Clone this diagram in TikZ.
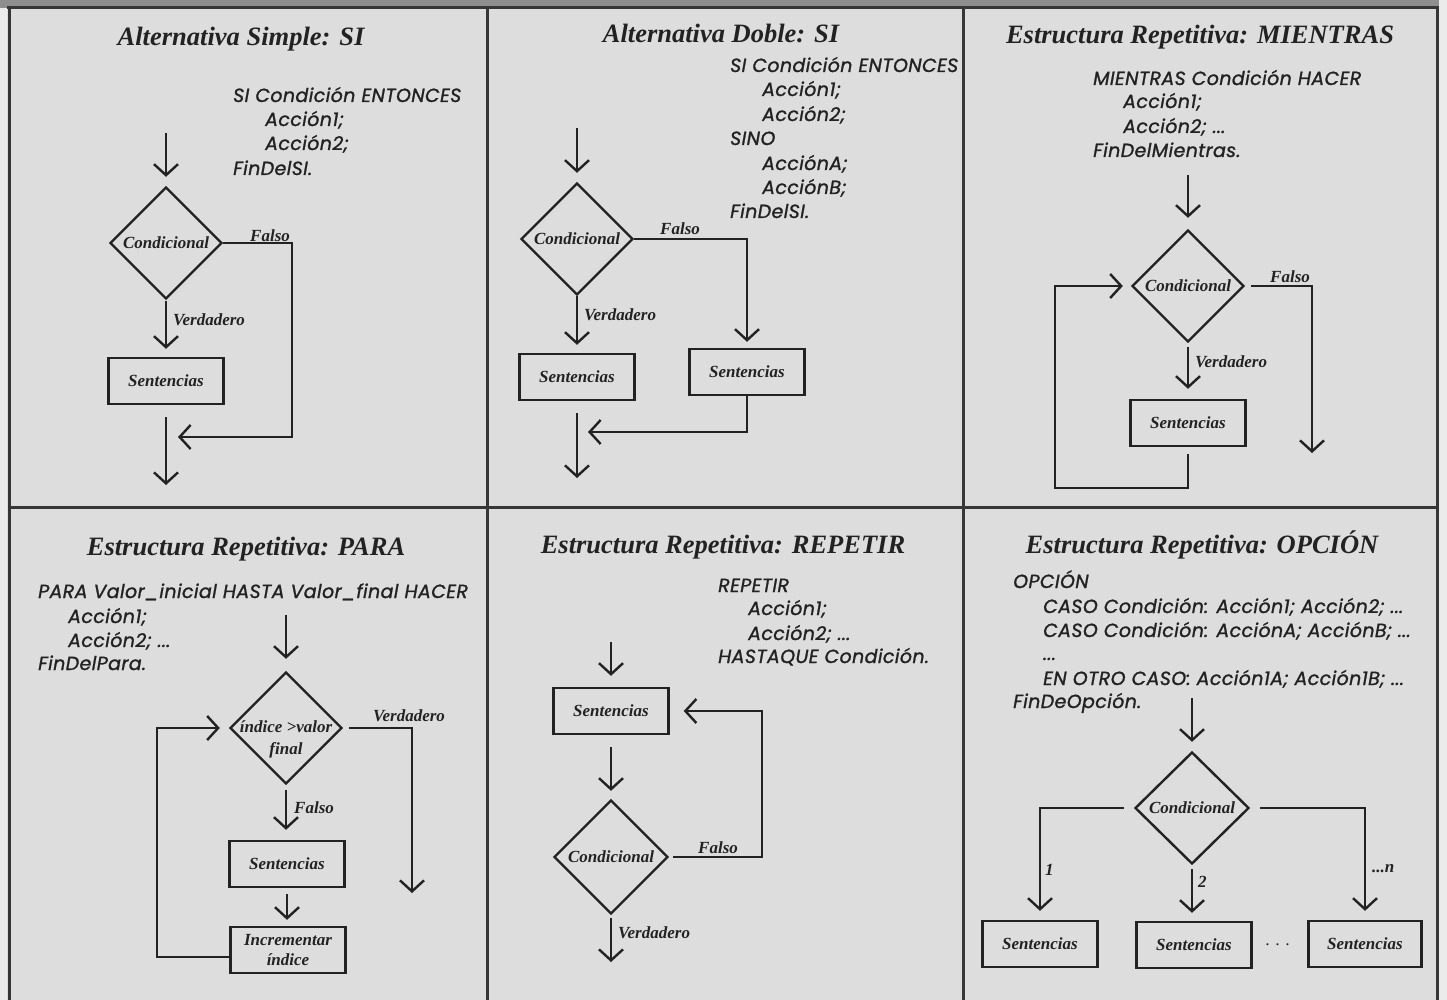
\documentclass[tikz,border=0pt]{standalone}
\usepackage{fontspec}
\setmainfont{Liberation Serif}
\newfontfamily\codefont{Poppins}[FakeBold=1.2,LetterSpace=2]
\usetikzlibrary{arrows.meta,shapes.geometric}
\definecolor{bg}{HTML}{DDDDDD}
\definecolor{ink}{HTML}{222222}
\definecolor{frame}{HTML}{363636}
\definecolor{topbar}{HTML}{8E8E8E}
\definecolor{margin}{HTML}{EBEBEB}
\begin{document}
\begin{tikzpicture}[x=1pt,y=-1pt,
  every node/.style={text=ink},
  ln/.style={line width=2.4pt, draw=ink},
  arr/.style={ln, -{Straight Barb[length=11pt,width=24pt,line width=2.4pt]}},
  dia/.style={ln, shape=diamond, minimum width=112pt, minimum height=112pt, inner sep=0pt,
    font=\bfseries\itshape\fontsize{17}{19}\selectfont},
  box/.style={ln, rectangle, minimum width=115pt, minimum height=46pt, inner sep=0pt,
    font=\bfseries\itshape\fontsize{17}{20}\selectfont},
  lbl/.style={font=\bfseries\itshape\fontsize{17}{19}\selectfont, inner sep=0pt},
  elbl/.style={lbl, anchor=base west},
  ttl/.style={font=\bfseries\itshape\fontsize{26.5}{30}\selectfont, inner sep=0pt, anchor=base},
  code/.style={font=\codefont\itshape\fontsize{19}{22}\selectfont, inner sep=0pt, anchor=base west},
]
\useasboundingbox (0,0) rectangle (1447,1000);
\fill[bg] (0,0) rectangle (1447,1000);
\fill[margin] (1439,0) rectangle (1447,1000);
\fill[margin] (0,0) rectangle (7,1000);
\fill[topbar] (0,0) rectangle (1439,8);
% frame
\draw[frame, line width=3pt] (7,8) -- (1439,8);
\draw[frame, line width=3pt] (9,8) -- (9,1000);
\draw[frame, line width=3pt] (487,8) -- (487,1000);
\draw[frame, line width=3pt] (963,8) -- (963,1000);
\draw[frame, line width=3pt] (1437,8) -- (1437,1000);
\draw[frame, line width=3pt] (9,507) -- (1437,507);

% ---------- Panel 1 ----------
\node[ttl] (t1) at (241,46) {Alternativa Simple: SI};
\node[code] (c1a) at (233,102) {SI Condición ENTONCES};
\node[code] (c1b) at (265,126) {Acción1;};
\node[code] (c1c) at (265,150) {Acción2;};
\node[code] (c1d) at (233,175) {FinDelSI.};
\coordinate (i1) at (166,133);
\node[dia] (d1) at (166,243) {Condicional};
\node[box] (s1) at (166,381) {Sentencias};
\coordinate (f1c) at (292,437);
\coordinate (f1e) at (178,437);
\coordinate (o1) at (166,485);
\draw[arr, shorten >=9pt] (i1) -- (d1.north);
\draw[arr, shorten <=1pt, shorten >=8pt] (d1.south) -- (s1.north);
\draw[arr, shorten <=12pt] (s1.south) -- (o1);
\draw[arr] (d1.east) -| (f1c) -- (f1e);
\node[elbl] (l1f) at (250,241) {Falso};
\node[elbl] (l1v) at (173,325) {Verdadero};

% ---------- Panel 2 ----------
\node[ttl] (t2) at (721,43) {Alternativa Doble: SI};
\node[code] (c2a) at (730,72) {SI Condición ENTONCES};
\node[code] (c2b) at (762,96) {Acción1;};
\node[code] (c2c) at (762,121) {Acción2;};
\node[code] (c2d) at (730,145) {SINO};
\node[code] (c2e) at (762,170) {AcciónA;};
\node[code] (c2f) at (762,194) {AcciónB;};
\node[code] (c2g) at (730,218) {FinDelSI.};
\coordinate (i2) at (577,128);
\node[dia] (d2) at (577,239) {Condicional};
\node[box] (s2a) at (577,377) {Sentencias};
\node[box] (s2b) at (747,372) {Sentencias};
\coordinate (j2) at (588,432);
\coordinate (o2) at (577,478);
\draw[arr, shorten >=9pt] (i2) -- (d2.north);
\draw[arr, shorten >=8pt] (d2.south) -- (s2a.north);
\draw[arr, shorten >=6pt] (d2.east) -| (s2b.north);
\draw[arr] (s2b.south) |- (j2);
\draw[arr, shorten <=12pt] (s2a.south) -- (o2);
\node[elbl] (l2f) at (660,235) {Falso};
\node[elbl] (l2v) at (584,320) {Verdadero};

% ---------- Panel 3 ----------
\node[ttl] (t3) at (1200,44) {Estructura Repetitiva: MIENTRAS};
\node[code] (c3a) at (1093,85) {MIENTRAS Condición HACER};
\node[code] (c3b) at (1123,108) {Acción1;};
\node[code] (c3c) at (1123,133) {Acción2; ...};
\node[code] (c3d) at (1093,157) {FinDelMientras.};
\coordinate (i3) at (1188,175);
\node[dia] (d3) at (1188,286) {Condicional};
\node[box] (s3) at (1188,423) {Sentencias};
\coordinate (f3) at (1312,453);
\coordinate (l3a) at (1055,488);
\draw[arr, shorten >=11pt] (i3) -- (d3.north);
\draw[arr, shorten <=4pt, shorten >=10pt] (d3.south) -- (s3.north);
\draw[arr, shorten <=6pt] (d3.east) -| (f3);
\draw[arr, shorten <=7pt, shorten >=8pt] (s3.south) |- (l3a) |- (d3.west);
\node[elbl] (l3f) at (1270,282) {Falso};
\node[elbl] (l3v) at (1195,367) {Verdadero};

% ---------- Panel 4 ----------
\node[ttl] (t4) at (246,555) {Estructura Repetitiva: PARA};
\node[code] (c4a) at (38,598) {PARA Valor\_inicial HASTA Valor\_final HACER};
\node[code] (c4b) at (68,623) {Acción1;};
\node[code] (c4c) at (68,647) {Acción2; ...};
\node[code] (c4d) at (38,670) {FinDelPara.};
\coordinate (i4) at (286,615);
\node[dia] (d4) at (286,728) {};
\node[lbl, align=center, font=\bfseries\itshape\fontsize{17}{22}\selectfont] (d4t) at (286,739) {índice >valor\\final};
\node[box] (s4) at (287,864) {Sentencias};
\node[box, align=center] (inc) at (288,950) {Incrementar\\índice};
\coordinate (v4) at (412,893);
\coordinate (l4) at (157,957);
\draw[arr, shorten >=12pt] (i4) -- (d4.north);
\draw[arr, shorten <=5pt, shorten >=10pt] (d4.south) -- (d4.south |- s4.north);
\draw[arr, shorten <=6pt, shorten >=6pt] (s4.south) -- (s4.south |- inc.north);
\draw[arr, shorten <=6pt] (d4.east) -| (v4);
\draw[arr, shorten >=9pt] ([yshift=-7pt]inc.west) -- (l4) |- (d4.west);
\node[elbl] (l4v) at (373,721) {Verdadero};
\node[elbl] (l4f) at (294,813) {Falso};

% ---------- Panel 5 ----------
\node[ttl] (t5) at (723,553) {Estructura Repetitiva: REPETIR};
\node[code] (c5a) at (718,592) {REPETIR};
\node[code] (c5b) at (748,615) {Acción1;};
\node[code] (c5c) at (748,640) {Acción2; ...};
\node[code] (c5d) at (718,663) {HASTAQUE Condición.};
\coordinate (i5) at (611,642);
\node[box] (s5) at (611,711) {Sentencias};
\node[dia, minimum width=114pt, minimum height=114pt] (d5) at (611,857) {Condicional};
\coordinate (f5) at (762,711);
\coordinate (o5) at (611,962);
\draw[arr, shorten >=11pt] (i5) -- (s5.north);
\draw[arr, shorten <=12pt, shorten >=8pt] (s5.south) -- (d5.north);
\draw[arr, shorten <=4pt, shorten >=14pt] (d5.east) -| (f5) -- (s5.east);
\draw[arr, shorten <=3pt] (d5.south) -- (o5);
\node[elbl] (l5f) at (698,853) {Falso};
\node[elbl] (l5v) at (618,938) {Verdadero};

% ---------- Panel 6 ----------
\node[ttl] (t6) at (1202,553) {Estructura Repetitiva: OPCIÓN};
\node[code] (c6a) at (1013,588) {OPCIÓN};
\node[code] (c6b) at (1043,613) {CASO Condición: Acción1; Acción2; ...};
\node[code] (c6c) at (1043,637) {CASO Condición: AcciónA; AcciónB; ...};
\node[code] (c6d) at (1043,660) {...};
\node[code] (c6e) at (1043,685) {EN OTRO CASO: Acción1A; Acción1B; ...};
\node[code] (c6f) at (1013,708) {FinDeOpción.};
\coordinate (i6) at (1192,698);
\node[dia, minimum width=114pt] (d6) at (1192,808) {Condicional};
\node[box] (s6a) at (1040,944) {Sentencias};
\node[box] (s6b) at (1194,945) {Sentencias};
\node[box, minimum width=113pt] (s6c) at (1365,944) {Sentencias};
\node[lbl, font=\itshape\fontsize{17}{19}\selectfont] (dots) at (1278,945) {.\,\,.\,\,.};
\draw[arr, shorten >=9pt] (i6) -- (d6.north);
\draw[arr, shorten <=10pt, shorten >=9pt] (d6.west) -| (s6a.north);
\draw[arr, shorten <=4pt, shorten >=8pt] (d6.south) -- (d6.south |- s6b.north);
\draw[arr, shorten <=10pt, shorten >=9pt] (d6.east) -| (s6c.north);
\node[elbl] (l61) at (1045,875) {1};
\node[elbl] (l62) at (1198,887) {2};
\node[elbl] (l6n) at (1372,872) {...n};
\end{tikzpicture}
\end{document}
